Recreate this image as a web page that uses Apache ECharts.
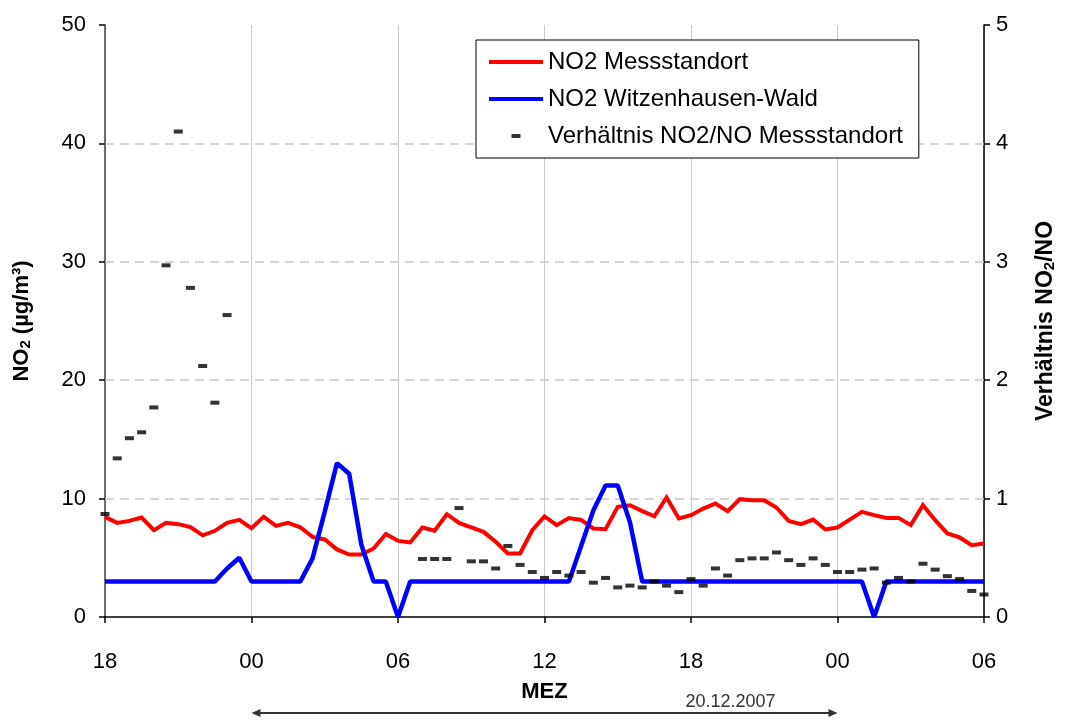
<!DOCTYPE html>
<html><head><meta charset="utf-8">
<script src="https://cdn.jsdelivr.net/npm/echarts/dist/echarts.min.js"></script>
<style>html,body{margin:0;padding:0;background:#fff}#c{width:1065px;height:720px}</style>
</head><body><div id="c"></div>
<script>
// half-hourly steps from 18:00 (19.12.) to 06:00 (21.12.)
const xTickLabels = ['18', '00', '06', '12', '18', '00', '06'];
const no2Messstandort = [
  8.46, 7.95, 8.12, 8.4, 7.33, 7.95, 7.84, 7.6, 6.9, 7.28,
  7.95, 8.2, 7.5, 8.46, 7.7, 7.95, 7.58, 6.77, 6.55, 5.71,
  5.28, 5.28, 5.79, 7.0, 6.43, 6.3, 7.56, 7.28, 8.68, 7.95,
  7.56, 7.19, 6.35, 5.37, 5.37, 7.33, 8.5, 7.76, 8.35, 8.2,
  7.48, 7.42, 9.3, 9.44, 8.94, 8.5, 10.09, 8.32, 8.6, 9.16,
  9.58, 8.94, 9.95, 9.86, 9.86, 9.25, 8.12, 7.84, 8.23, 7.39,
  7.56, 8.23, 8.88, 8.6, 8.37, 8.37, 7.76, 9.44, 8.18, 7.06,
  6.72, 6.07, 6.21
];
const no2Witzenhausen = [
  3, 3, 3, 3, 3, 3, 3, 3, 3, 3,
  4.1, 5.0, 3, 3, 3, 3, 3, 4.95, 8.9, 13.0,
  12.1, 6.1, 3, 3, 0, 3, 3, 3, 3, 3,
  3, 3, 3, 3, 3, 3, 3, 3, 3, 6.0,
  9.0, 11.1, 11.1, 8.0, 3, 3, 3, 3, 3, 3,
  3, 3, 3, 3, 3, 3, 3, 3, 3, 3,
  3, 3, 3, 0, 3, 3, 3, 3, 3, 3,
  3, 3, 3
];
const ratioNO2NO = [
  0.87, 1.34, 1.51, 1.56, 1.77, 2.97, 4.1, 2.78, 2.12, 1.81,
  2.55, null, null, null, null, null, null, null, null, null,
  null, null, null, null, null, null, 0.49, 0.49, 0.49, 0.92,
  0.47, 0.47, 0.41, 0.60, 0.44, 0.38, 0.33, 0.38, 0.35, 0.38,
  0.29, 0.33, 0.25, 0.265, 0.25, 0.30, 0.265, 0.21, 0.32, 0.265,
  0.41, 0.35, 0.48, 0.495, 0.495, 0.545, 0.48, 0.44, 0.495, 0.44,
  0.38, 0.38, 0.40, 0.41, 0.29, 0.33, 0.30, 0.45, 0.40, 0.345,
  0.32, 0.22, 0.19
];
const gridLevels = [10, 20, 30, 40];
const dateLabel = '20.12.2007';

const FONT = 'Liberation Sans, Arial, sans-serif';
const chart = echarts.init(document.getElementById('c'), null, {renderer: 'canvas'});

const toPairs = arr => arr.map((v, i) => [i, v]).filter(p => p[1] !== null);

const option = {
  backgroundColor: '#ffffff',
  animation: false,
  textStyle: {fontFamily: FONT},
  grid: {left: 105, right: 69, top: 25, bottom: 103, containLabel: false},
  legend: {
    orient: 'vertical',
    left: 476, top: 40,
    padding: [10, 16, 10, 13],
    backgroundColor: '#ffffff',
    borderColor: '#000000', borderWidth: 1,
    itemWidth: 54, itemHeight: 4, itemGap: 13,
    textStyle: {fontSize: 24, color: '#000', fontFamily: FONT},
    data: [
      {name: 'NO2 Messstandort', icon: 'path://M0,0h54v4h-54z'},
      {name: 'NO2 Witzenhausen-Wald', icon: 'path://M0,0h54v4h-54z'},
      {name: 'Verhältnis NO2/NO Messstandort', icon: 'path://M0,0h9v4h-9z'}
    ]
  },
  xAxis: {
    type: 'value', min: 0, max: 72, interval: 12,
    axisLine: {show: true, onZero: false, lineStyle: {color: '#000', width: 1.5}},
    axisTick: {show: true, length: 6, lineStyle: {color: '#000', width: 1.5}},
    splitLine: {show: true, lineStyle: {color: '#c8c8c8', width: 1}},
    axisLabel: {fontSize: 22, color: '#000', margin: 34, fontFamily: FONT,
      formatter: v => xTickLabels[Math.round(v / 12)]},
    name: 'MEZ', nameLocation: 'middle', nameGap: 64,
    nameTextStyle: {fontSize: 22, fontWeight: 'bold', color: '#000', fontFamily: FONT}
  },
  yAxis: [{
    type: 'value', min: 0, max: 50, interval: 10, position: 'left',
    axisLine: {show: true, lineStyle: {color: '#444', width: 1.5}},
    axisTick: {show: true, length: 6, lineStyle: {color: '#000', width: 1.5}},
    splitLine: {show: false},
    axisLabel: {fontSize: 22, color: '#000', margin: 19, fontFamily: FONT},
    name: '{b|NO}{s|2}{b| (µg/m³)}', nameLocation: 'middle', nameGap: 72, nameRotate: 90,
    nameTextStyle: {rich: {
      b: {fontSize: 22, fontWeight: 'bold', color: '#000', fontFamily: FONT},
      s: {fontSize: 15, fontWeight: 'bold', color: '#000', fontFamily: FONT, verticalAlign: 'bottom', lineHeight: 10}
    }}
  }, {
    type: 'value', min: 0, max: 5, interval: 1, position: 'right',
    axisLine: {show: true, lineStyle: {color: '#000', width: 1.5}},
    axisTick: {show: true, length: 6, lineStyle: {color: '#000', width: 1.5}},
    splitLine: {show: false},
    axisLabel: {fontSize: 22, color: '#000', margin: 12, fontFamily: FONT},
    name: '{b|Verhältnis NO}{s|2}{b|/NO}', nameLocation: 'middle', nameGap: 50, nameRotate: 90,
    nameTextStyle: {rich: {
      b: {fontSize: 23, fontWeight: 'bold', color: '#000', fontFamily: FONT},
      s: {fontSize: 15, fontWeight: 'bold', color: '#000', fontFamily: FONT, verticalAlign: 'bottom', lineHeight: 10}
    }}
  }],
  series: [{
    name: 'NO2 Messstandort', type: 'line', yAxisIndex: 0, z: 2,
    data: toPairs(no2Messstandort), symbol: 'none', color: '#ff0000',
    lineStyle: {color: '#ff0000', width: 4, join: 'miter'},
    markLine: {
      silent: true, symbol: 'none', z: 1, label: {show: false},
      lineStyle: {color: '#c8c8c8', type: [9, 6], width: 1.5},
      data: gridLevels.map(v => ({yAxis: v}))
    }
  }, {
    name: 'NO2 Witzenhausen-Wald', type: 'line', yAxisIndex: 0, z: 3,
    data: toPairs(no2Witzenhausen), symbol: 'none', color: '#0000ff',
    lineStyle: {color: '#0000ff', width: 4.5}
  }, {
    name: 'Verhältnis NO2/NO Messstandort', type: 'scatter', yAxisIndex: 1, z: 4,
    data: toPairs(ratioNO2NO), symbol: 'rect', symbolSize: [9, 4], color: '#000',
    itemStyle: {color: '#000'}
  }]
};
chart.setOption(option);

// date span arrow under the axis (00:00 to 00:00 of 20.12.2007)
const xa = chart.convertToPixel({xAxisIndex: 0}, 12);
const xb = chart.convertToPixel({xAxisIndex: 0}, 60);
const ay = 713;
chart.setOption({
  graphic: [
    {type: 'line', shape: {x1: xa + 4, y1: ay, x2: xb - 4, y2: ay}, style: {stroke: '#333', lineWidth: 2}},
    {type: 'polygon', shape: {points: [[xa, ay], [xa + 9, ay - 4], [xa + 9, ay + 4]]}, style: {fill: '#333'}},
    {type: 'polygon', shape: {points: [[xb, ay], [xb - 9, ay - 4], [xb - 9, ay + 4]]}, style: {fill: '#333'}},
    {type: 'text', x: xb - 152, y: 693, style: {text: dateLabel, fontSize: 18, fill: '#333', fontFamily: FONT}}
  ]
});
</script></body></html>
